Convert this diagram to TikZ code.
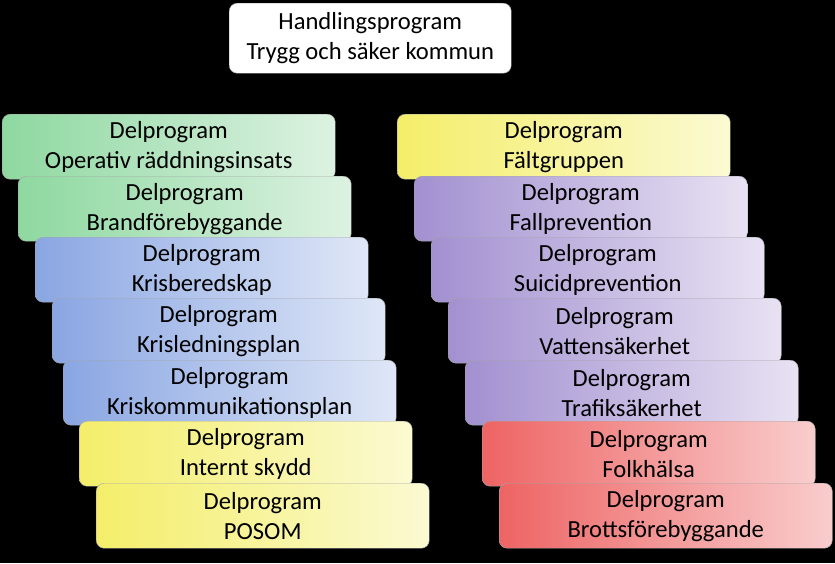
\documentclass[tikz,border=0pt]{standalone}
\usepackage{fontspec}
\setmainfont{Carlito}
\usepackage{tikz}
\usetikzlibrary{positioning}
\definecolor{grA}{HTML}{8ED8A0}\definecolor{grB}{HTML}{DDF2E2}
\definecolor{blA}{HTML}{8AA6E2}\definecolor{blB}{HTML}{DFE7F7}
\definecolor{yeA}{HTML}{F4EE6A}\definecolor{yeB}{HTML}{FBFAD2}
\definecolor{puA}{HTML}{A290D0}\definecolor{puB}{HTML}{E8E2F3}
\definecolor{reA}{HTML}{EE6464}\definecolor{reB}{HTML}{F9CDCD}
\tikzstyle{prog}=[draw=gray!70,rounded corners=2.4mm,anchor=north west,minimum width=99.9mm,minimum height=19.5mm,align=center,font=\fontsize{21}{25.5}\selectfont,inner sep=0pt]
\tikzstyle{green}=[left color=grA,right color=grB]
\tikzstyle{blue}=[left color=blA,right color=blB]
\tikzstyle{yellow}=[left color=yeA,right color=yeB]
\tikzstyle{purple}=[left color=puA,right color=puB]
\tikzstyle{red}=[left color=reA,right color=reB]
\begin{document}
\begin{tikzpicture}[x=0.3mm,y=-0.3mm]
\fill[black] (0,0) rectangle (835,563);
\useasboundingbox (0,0) rectangle (835,563);
\node [prog,fill=white,minimum width=84.6mm,minimum height=21mm] (top) at (229,3) {Handlingsprogram\\Trygg och säker kommun};
% left column
\node [prog,green] (l1) at (2,114) {Delprogram\\Operativ räddningsinsats};
\node [prog,green] (l2) at (18,176) {Delprogram\\Brandförebyggande};
\node [prog,blue] (l3) at (35,237) {Delprogram\\Krisberedskap};
\node [prog,blue] (l4) at (52,298) {Delprogram\\Krisledningsplan};
\node [prog,blue] (l5) at (63,360) {Delprogram\\Kriskommunikationsplan};
\node [prog,yellow] (l6) at (79,421) {Delprogram\\Internt skydd};
\node [prog,yellow] (l7) at (96,483) {Delprogram\\POSOM};
% right column
\node [prog,yellow] (r1) at (397,114) {Delprogram\\Fältgruppen};
\node [prog,purple] (r2) at (414,176) {Delprogram\\Fallprevention};
\node [prog,purple] (r3) at (431,237) {Delprogram\\Suicidprevention};
\node [prog,purple] (r4) at (448,298) {Delprogram\\Vattensäkerhet};
\node [prog,purple] (r5) at (465,360) {Delprogram\\Trafiksäkerhet};
\node [prog,red] (r6) at (482,421) {Delprogram\\Folkhälsa};
\node [prog,red] (r7) at (499,483) {Delprogram\\Brottsförebyggande};
\end{tikzpicture}
\end{document}
